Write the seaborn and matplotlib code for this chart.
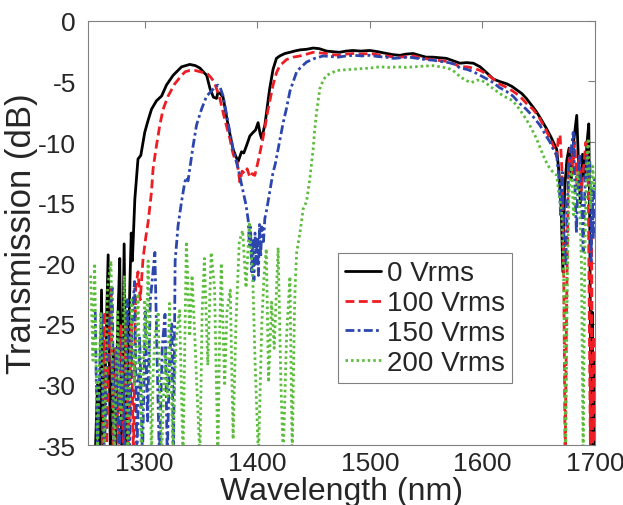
import numpy as np
import pandas as pd
import matplotlib
matplotlib.use("Agg")
import matplotlib.pyplot as plt
import seaborn as sns

# ---- data (wavelength nm, transmission dB) ----
wl_0 = [1256, 1258, 1260, 1261.6, 1263, 1265.5, 1267.5, 1269.5, 1272, 1274, 1276, 1277.8, 1279.5,
        1281.7, 1283.5, 1285.5, 1287, 1288, 1289, 1291.2, 1294, 1296.5, 1300, 1303, 1306, 1310.4,
        1315, 1319.3, 1325.2, 1332.7, 1340, 1345, 1349, 1355, 1358, 1361, 1363.8, 1365, 1367,
        1369.6, 1374, 1378.5, 1381, 1383, 1386, 1388, 1390.4, 1393.4, 1396.3, 1398.5, 1400.7,
        1402.5, 1403.8, 1406.7, 1409, 1411, 1414, 1417, 1420, 1424.5, 1429, 1433, 1438, 1444,
        1449.6, 1455, 1461.6, 1467, 1473, 1479, 1485, 1492, 1500, 1507, 1515, 1521, 1526.7, 1532,
        1538.5, 1544, 1550, 1556, 1562, 1568, 1574, 1580, 1586, 1592, 1598, 1604, 1609.6, 1615,
        1621.6, 1626, 1630.5, 1635, 1639, 1644, 1648, 1652, 1657, 1661, 1664, 1666, 1668, 1670,
        1671.5, 1673, 1675, 1677, 1679, 1681, 1683.8, 1685.5, 1687, 1689, 1691, 1693, 1694.5,
        1695.5, 1696.5, 1697.5, 1698.5, 1699.5, 1700]
tr_0 = [-36, -30, -36, -22.2, -36, -27, -19.3, -36, -27, -36, -25, -19.6, -35,
        -18.4, -36, -27, -21, -17.5, -19.8, -14.7, -11.4, -11.1, -9.2, -8.2, -7.3, -6.6,
        -6.2, -5.3, -4.5, -3.8, -3.6, -3.7, -3.9, -4.5, -5.6, -6.3, -6.4, -5.9, -6.0,
        -6.3, -8.6, -10.6, -11.2, -11.6, -10.8, -10.9, -10.3, -9.5, -9.2, -9.0, -8.4,
        -9.3, -9.7, -8.6, -7.0, -5.6, -4.0, -3.1, -2.9, -2.7, -2.6, -2.5, -2.4, -2.35,
        -2.25, -2.3, -2.5, -2.55, -2.6, -2.5, -2.45, -2.5, -2.45, -2.55, -2.7, -2.8, -2.85, -2.75,
        -2.7, -2.85, -3.0, -3.0, -3.05, -3.1, -3.3, -3.5, -3.45, -3.5, -3.8, -4.3, -4.8, -5.0,
        -5.2, -5.4, -5.7, -6.0, -6.4, -7.0, -7.5, -8.1, -8.9, -9.6, -10.2, -10.6, -12.5, -15.5,
        -20.7, -14, -11.5, -10.5, -13, -10, -7.8, -12, -15, -11, -13, -10, -8.5,
        -18, -36, -24, -36, -28, -36]

wl_100 = [1262, 1264.5, 1266, 1268, 1270, 1272, 1274.5, 1276.5, 1279, 1281, 1283.5, 1285.5, 1288,
          1290, 1292, 1294, 1296, 1298.5, 1301, 1303, 1306, 1307.4, 1310.4, 1313.4, 1316.3, 1320.8,
          1326.7, 1332.7, 1336, 1340, 1345, 1349, 1353, 1356, 1359, 1362, 1366.7, 1371, 1375.6,
          1378, 1380, 1382, 1384.5, 1386.5, 1389, 1391, 1393.4, 1395.5, 1397.8, 1400.7, 1405,
          1409.6, 1414, 1417, 1420, 1426, 1432, 1438, 1444, 1449.6, 1455, 1461.6, 1467, 1473, 1479,
          1485, 1492, 1500, 1507, 1515, 1521, 1527, 1533, 1539, 1545, 1551, 1557, 1563, 1569, 1575,
          1580, 1586, 1592, 1598, 1604, 1609.6, 1615, 1621.6, 1627, 1633, 1639, 1645, 1650, 1654,
          1657, 1660, 1663, 1666, 1667.5, 1669, 1670.5, 1672, 1673.5, 1675, 1676.5, 1678, 1680,
          1682, 1684, 1686, 1688, 1690, 1692, 1694, 1695, 1696, 1697, 1698, 1699, 1700]
tr_100 = [-36, -24, -36, -27, -22, -36, -27, -36, -25, -36, -24, -36, -25,
          -36, -22, -20.7, -23, -19.6, -17.8, -16.6, -14.1, -12.2, -10.3, -8.6, -7.3, -6.2,
          -5.2, -4.5, -4.2, -4.1, -4.1, -4.2, -4.3, -4.4, -4.7, -5.1, -6.4, -8.1, -9.7,
          -10.8, -11.4, -11.6, -13.3, -12.4, -12.6, -12.2, -12.9, -12.6, -12.75, -11.6, -9.7,
          -7.3, -5.3, -4.3, -3.7, -3.2, -3.0, -2.9, -2.75, -2.6, -2.65, -2.7, -2.8, -2.85, -2.75,
          -2.7, -2.75, -2.7, -2.8, -2.9, -3.0, -3.0, -2.95, -2.9, -3.05, -3.15, -3.2, -3.3, -3.35, -3.55,
          -3.8, -3.8, -3.9, -4.1, -4.4, -4.8, -5.2, -5.5, -5.8, -6.2, -6.8, -7.3, -7.9, -8.6,
          -9.1, -9.7, -10.3, -11.2, -9.6, -9.4, -12, -18, -36, -22, -12, -10.5, -12.5,
          -10, -13.5, -11, -14, -12, -10, -12.5, -25, -36, -18, -36, -26, -36]

wl_150 = [1256, 1258, 1260.5, 1262, 1264, 1266.5, 1268.5, 1271, 1273, 1275.5, 1277.5, 1280, 1282,
          1284.5, 1286.5, 1289, 1291, 1293, 1295.5, 1298, 1300.5, 1302.5, 1305, 1307, 1309, 1311,
          1313, 1315.5, 1318, 1320, 1322, 1324, 1325.5, 1327, 1329.6, 1332.7, 1335.6, 1337, 1338.5,
          1340, 1343, 1346, 1350.4, 1355, 1359.3, 1362, 1365, 1367, 1369.6, 1374, 1378.5, 1383,
          1387.4, 1390, 1392, 1393, 1394, 1395, 1396, 1397, 1398, 1399, 1400, 1401, 1402, 1403,
          1404, 1405.5, 1406.7, 1408.5, 1411, 1412.5, 1414, 1416, 1418.5, 1423, 1426, 1429, 1432,
          1435, 1438, 1443.8, 1451, 1458.5, 1465, 1472, 1479, 1486, 1493, 1500, 1507, 1514, 1521,
          1528, 1535, 1542, 1549, 1556, 1563, 1570, 1576, 1580, 1586, 1592, 1598, 1604, 1609.6,
          1615, 1621, 1627, 1633, 1639, 1645, 1651, 1656, 1660, 1663, 1666, 1668, 1669.5, 1671,
          1672.5, 1674, 1675.5, 1677, 1679, 1680.7, 1682, 1683.5, 1685, 1686.5, 1688, 1689.5,
          1691, 1692.5, 1694, 1695.5, 1696.5, 1697.5, 1698.5, 1699.5]
tr_150 = [-24, -36, -27, -24, -36, -28, -25, -22, -36, -27, -36, -26, -36,
          -23, -36, -24, -21.5, -36, -26, -36, -24, -33, -23, -21, -19.1, -28,
          -36, -27, -24.2, -36, -28, -25, -36, -19.8, -16.9, -14.9, -13.3, -12.9, -13.2,
          -12.2, -10.3, -8.6, -7.3, -6.2, -5.8, -5.5, -5.3, -5.5, -6.2, -8.4, -10.6, -12.2,
          -14.1, -15.2, -16.5, -18.5, -17, -20.7, -18, -21.4, -17.5, -20, -17.8, -21, -16.8, -19.5,
          -17, -18.2, -16.3, -15.5, -14.1, -13.3, -12.5, -11.8, -10.6, -8.4, -7.2, -5.8, -5.0,
          -4.2, -3.9, -3.4, -3.1, -2.9, -2.95, -3.0, -2.9, -2.85, -2.9, -2.85, -2.95, -3.0, -3.1,
          -3.05, -3.0, -3.1, -3.2, -3.25, -3.35, -3.45, -3.6, -3.9, -4.0, -4.2, -4.5, -4.8, -5.1,
          -5.5, -5.8, -6.2, -6.8, -7.3, -7.9, -8.6, -9.4, -10.0, -10.6, -11.1, -13, -16, -12.5,
          -18, -20.2, -15, -12, -10.5, -9.2, -13, -17.5, -13, -11, -14.5, -19,
          -14, -11, -13, -11.5, -19.8, -14, -18, -13]

wl_200 = [1252, 1254, 1255.5, 1258, 1260, 1261, 1264, 1265.5, 1267, 1270, 1271.5, 1273, 1276,
          1277.5, 1279, 1282, 1283.5, 1285, 1288, 1289.5, 1291, 1294, 1295.5, 1297, 1300, 1301.5,
          1303, 1306, 1307.5, 1309, 1312, 1313.5, 1315, 1318, 1320, 1322, 1325, 1326.5, 1328, 1331,
          1332.5, 1334, 1337, 1340, 1342, 1344, 1346, 1349, 1351, 1353, 1356, 1359, 1362, 1365,
          1366.5, 1368, 1371, 1373, 1376, 1378.5, 1381, 1384, 1387, 1390, 1393, 1396, 1398, 1401,
          1404, 1406, 1408, 1410, 1412.7, 1415, 1418.5, 1421, 1423, 1426, 1429, 1431, 1433, 1434,
          1435, 1438, 1440.8, 1443.8, 1446.7, 1449.6, 1451, 1452.7, 1455.6, 1458.5, 1461.6, 1466,
          1470.5, 1477, 1485, 1492, 1500, 1509, 1517, 1525, 1532, 1538.5, 1546, 1556, 1563, 1569,
          1574, 1580, 1585, 1590, 1595, 1599, 1604, 1609.6, 1614, 1618.5, 1623, 1627, 1633, 1638,
          1642, 1648, 1651, 1654, 1657, 1660, 1663, 1666, 1667.4, 1670.4, 1672, 1674, 1675.5, 1677,
          1679, 1681, 1683, 1685, 1686.7, 1688, 1689.5, 1691, 1692.5, 1694, 1696, 1698, 1699.5]
tr_200 = [-21, -28, -20, -36, -27, -24, -36, -29, -22, -19.8, -30, -36, -24,
          -31, -33, -21, -30, -36, -23, -27, -30, -22.5, -29, -36, -23, -27,
          -19.8, -36, -29, -26, -24, -32, -36, -27, -31, -23.3, -36, -30, -26, -23.9,
          -30, -36, -18.2, -26, -21, -25, -29.5, -36, -24, -19.6, -28.4, -19.1, -22, -36,
          -26, -20, -30.1, -24, -22.2, -34.5, -25, -18.2, -17.3, -22, -16.6, -21.3, -28, -36,
          -25, -21, -18.8, -29.8, -23.2, -27, -18.7, -30, -36, -26, -21.1, -36, -24, -21,
          -19.1, -17.4, -15.5, -14.9, -13.0, -10.6, -9.0, -7.5, -5.6, -4.9, -4.5, -4.3,
          -4.1, -4.05, -4.0, -3.95, -3.9, -3.8, -3.85, -3.8, -3.85, -3.8, -3.75, -3.7, -3.8, -3.9,
          -4.1, -4.6, -4.9, -5.1, -4.9, -4.9, -5.2, -5.6, -5.9, -6.2, -6.4, -6.6, -7.3, -8.0,
          -8.6, -9.7, -10.4, -11.1, -11.7, -12.2, -12.5, -12.75, -13.85, -15.8, -20, -36, -21, -14,
          -12, -16, -13.5, -12.5, -16, -20, -36, -19, -12, -9.7, -15.5, -12, -14]

series_labels = ["0 Vrms", "100 Vrms", "150 Vrms", "200 Vrms"]
x_ticks = [1300, 1400, 1500, 1600, 1700]
y_ticks = [0, -5, -10, -15, -20, -25, -30, -35]
y_tick_labels = ["0", "-5", "-10", "-15", "-20", "-25", "-30", "-35"]

# ---- styling ----
sns.set_style("white")
plt.rcParams["font.family"] = ["Liberation Sans", "DejaVu Sans"]

colors = ["#000000", "#ee1d23", "#2c46ad", "#5cbd3c"]
styles = ["-", (0, (3.2, 1.6)), (0, (3.2, 1.2, 1, 1.2)), (0, (0.9, 1.1))]
series = [(wl_0, tr_0), (wl_100, tr_100), (wl_150, tr_150), (wl_200, tr_200)]

fig = plt.figure(figsize=(6.23, 5.06), dpi=100)
ax = fig.add_axes([0.142, 0.118, 0.813, 0.839])

for (wl, tr), lab, col, ls in zip(series, series_labels, colors, styles):
    df = pd.DataFrame({"wl": wl, "tr": tr})
    sns.lineplot(data=df, x="wl", y="tr", ax=ax, color=col, linestyle=ls,
                 linewidth=2.0, label=lab, sort=False, estimator=None)

ax.set_xlim(1250, 1700)
ax.set_ylim(-35, 0)
ax.set_xticks(x_ticks)
ax.set_yticks(y_ticks)
ax.set_yticklabels(y_tick_labels)
ax.tick_params(axis="both", direction="in", length=5, width=0.8, color="#808080",
               labelsize=19, top=True, right=True)
ax.tick_params(axis="y", pad=9)
ax.tick_params(axis="x", pad=4)
for sp in ax.spines.values():
    sp.set_color("#808080")
    sp.set_linewidth(0.8)

ax.set_xlabel("Wavelength (nm)", fontsize=23, labelpad=0.5)
ax.set_ylabel("Transmission (dB)", fontsize=25, labelpad=0)

leg = ax.legend(loc="upper left", bbox_to_anchor=(0.493, 0.452), fontsize=20,
                handlelength=1.3, handletextpad=0.2, labelspacing=0.14,
                borderpad=0.25, borderaxespad=0, fancybox=False, framealpha=1,
                edgecolor="#808080")
leg.get_frame().set_linewidth(0.8)

fig.savefig("out.png", dpi=100)
